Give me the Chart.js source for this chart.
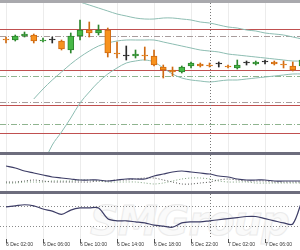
<!DOCTYPE html>
<html>
<head>
<meta charset="utf-8">
<script src="https://cdn.jsdelivr.net/npm/chart.js@4.4.0/dist/chart.umd.min.js"></script>
<style>
    html, body { margin: 0; padding: 0; background: #fff; }
    #wrap { position: relative; width: 300px; height: 250px; overflow: hidden; background: #fff; }
    .sep { position: absolute; left: 0; width: 300px; }
    .pane { position: absolute; left: 0; width: 300px; }
    #mark { position: absolute; left: 90px; top: 198px; font: italic bold 40px "DejaVu Sans", sans-serif;
            color: #fafafa; -webkit-text-stroke: 1px #ebebeb; letter-spacing: -1px; white-space: nowrap; }
</style>
</head>
<body>
<div id="wrap">
    <div id="mark">SMGroup</div>
    <div class="sep" style="top:0;height:3px;background:#a9a9ad"></div>
    <div class="pane" style="top:3px;height:149px"><canvas id="main" width="300" height="149"></canvas></div>
    <div class="sep" style="top:152px;height:3px;background:#6d6d7d"></div>
    <div class="pane" style="top:155px;height:36px"><canvas id="adx" width="300" height="36"></canvas></div>
    <div class="sep" style="top:191px;height:3px;background:#6d6d7d"></div>
    <div class="pane" style="top:194px;height:56px"><canvas id="rsi" width="300" height="56"></canvas></div>
</div>
<script>
// hourly candles, 6 Dec 02:00 .. 7 Dec 10:00
const opens  = [1.0863, 1.0862, 1.0866, 1.0867, 1.0861, 1.0862, 1.0861, 1.0852, 1.0866, 1.0872, 1.0869,
                1.0872, 1.0849, 1.0846, 1.0846, 1.0847, 1.0846, 1.0835, 1.0832, 1.0830, 1.0836, 1.0838,
                1.0837, 1.0838, 1.0836, 1.0834, 1.0839, 1.0838, 1.0840, 1.0840, 1.0838, 1.0836, 1.0836];
const highs  = [1.0865, 1.0867, 1.0870, 1.0868, 1.0864, 1.0865, 1.0862, 1.0869, 1.0882, 1.0880, 1.0877,
                1.0874, 1.0860, 1.0856, 1.0852, 1.0855, 1.0852, 1.0837, 1.0835, 1.0836, 1.0840, 1.0839,
                1.0839, 1.0840, 1.0837, 1.0842, 1.0841, 1.0841, 1.0842, 1.0841, 1.0841, 1.0840, 1.0844];
const lows   = [1.0859, 1.0861, 1.0865, 1.0859, 1.0860, 1.0859, 1.0852, 1.0849, 1.0862, 1.0865, 1.0867,
                1.0845, 1.0844, 1.0842, 1.0844, 1.0842, 1.0836, 1.0824, 1.0826, 1.0829, 1.0834, 1.0835,
                1.0835, 1.0835, 1.0834, 1.0833, 1.0837, 1.0837, 1.0838, 1.0837, 1.0834, 1.0831, 1.0835];
const closes = [1.0862, 1.0866, 1.0868, 1.0861, 1.0862, 1.0862, 1.0853, 1.0866, 1.0872, 1.0869, 1.0872,
                1.0849, 1.0848, 1.0846, 1.0848, 1.0846, 1.0837, 1.0832, 1.0830, 1.0835, 1.0839, 1.0836,
                1.0836, 1.0838, 1.0835, 1.0837, 1.0839, 1.0840, 1.0840, 1.0838, 1.0837, 1.0832, 1.0842];

// bollinger bands (start after the warm-up candles)
const bandUpper = [null, null, null, 1.0927, 1.0922, 1.0916, 1.0910, 1.0904, 1.0900, 1.0897, 1.0894,
                   1.0891, 1.0888, 1.0886, 1.0884, 1.0883, 1.0883, 1.0884, 1.0884, 1.0883, 1.0882, 1.0880,
                   1.0879, 1.0877, 1.0875, 1.0874, 1.0872, 1.0871, 1.0869, 1.0868, 1.0867, 1.0865, 1.0863];
const bandMid   = [null, null, null, 1.0803, 1.0813, 1.0822, 1.0830, 1.0838, 1.0845, 1.0851, 1.0856,
                   1.0859, 1.0861, 1.0862, 1.0862, 1.0862, 1.0862, 1.0860, 1.0858, 1.0856, 1.0854, 1.0852,
                   1.0851, 1.0850, 1.0848, 1.0847, 1.0846, 1.0845, 1.0844, 1.0843, 1.0842, 1.0841, 1.0841];
const bandLower = [null, null, null, 1.0717, 1.0737, 1.0757, 1.0770, 1.0784, 1.0799, 1.0810, 1.0820,
                   1.0828, 1.0834, 1.0839, 1.0841, 1.0842, 1.0840, 1.0834, 1.0828, 1.0824, 1.0822, 1.0821,
                   1.0820, 1.0821, 1.0822, 1.0822, 1.0823, 1.0824, 1.0825, 1.0826, 1.0827, 1.0828, 1.0828];

// support / resistance levels
const levels = [1.0873, 1.0866, 1.0832, 1.0826, 1.0800, 1.0797, 1.0778, 1.0769];
const levelKinds = ['red', 'dashGrey', 'red', 'dashGreen', 'dashGrey', 'red', 'dashGreen', 'red'];

// lower panes
const adxLine  = [25, 23, 20, 18, 16, 14, 13, 12, 11, 11, 11, 10, 11, 12, 12, 12, 15, 17, 19, 20, 19, 18,
                  17, 15, 14, 12, 11, 11, 11, 10, 10, 10, 10];
const diPlus   = [9, 9, 10, 11, 10, 9, 9, 9, 9, 9, 10, 10, 11, 11, 12, 13, 13, 11, 9, 7, 7, 8,
                  9, 11, 12, 11, 10, 10, 10, 9, 9, 9, 9];
const diMinus  = [8, 8, 9, 9, 9, 10, 10, 10, 11, 11, 10, 9, 9, 9, 9, 8, 7, 8, 10, 12, 13, 13,
                  12, 10, 9, 9, 9, 8, 8, 8, 8, 8, 8];
const rsiLine  = [67.9, 70.0, 72.1, 70.0, 63.7, 59.5, 53.2, 61.6, 65.8, 65.8, 65.8, 44.7, 40.5, 40.5, 38.4,
                  36.3, 32.1, 30.0, 27.9, 36.3, 38.4, 38.4, 40.5, 42.6, 44.7, 46.8, 48.9, 48.9, 44.7, 40.5,
                  36.3, 34.2, 80.5];
const rsiLevels = [70, 30];

const tickIdx    = [0, 4, 8, 12, 16, 20, 24, 28];
const tickLabels = ['6 Dec 02:00', '6 Dec 06:00', '6 Dec 10:00', '6 Dec 14:00',
                    '6 Dec 18:00', '6 Dec 22:00', '7 Dec 02:00', '7 Dec 06:00'];
const dayBreak = 22;   // 7 Dec 00:00

const X_MIN = -0.65, X_MAX = 31.78;
const UP = '#47b947', DOWN = '#f7921e', FLAT = '#2a2a2a';
const UP_EDGE = '#2d862d', DOWN_EDGE = '#cf6a12';
const BAND = '#8dbdb2';
const PANE_LINE = '#3d3d66';
const LEVEL_STYLE = {
    red:       { color: '#c05050', dash: [] },
    dashGrey:  { color: '#a89c9c', dash: [6, 2, 1, 2] },
    dashGreen: { color: '#8fb48f', dash: [6, 2, 1, 2] }
};

const idx = opens.map((_, i) => i);
const pts = arr => arr.map((v, i) => ({ x: i, y: v }));
const dirOf = i => closes[i] > opens[i] ? 1 : (closes[i] < opens[i] ? -1 : 0);
const bodyColor = i => dirOf(i) > 0 ? UP : (dirOf(i) < 0 ? DOWN : FLAT);
const edgeColor = i => dirOf(i) > 0 ? UP_EDGE : (dirOf(i) < 0 ? DOWN_EDGE : FLAT);

// draws the faint grid, level lines and the day separator through the chart's scales
const guides = {
    id: 'guides',
    beforeDatasetsDraw(chart, args, opts) {
        const { ctx, chartArea: a, scales: { x, y } } = chart;
        ctx.save();
        ctx.lineWidth = 1;
        ctx.strokeStyle = '#ececec';
        tickIdx.forEach(i => {
            const px = Math.round(x.getPixelForValue(i)) + 0.5;
            ctx.beginPath(); ctx.moveTo(px, a.top); ctx.lineTo(px, a.bottom); ctx.stroke();
        });
        (opts.levels || []).forEach((lv, k) => {
            const st = opts.styles ? LEVEL_STYLE[opts.styles[k]] : { color: '#8a8a8a', dash: [1, 2] };
            const py = Math.round(y.getPixelForValue(lv)) + 0.5;
            ctx.strokeStyle = st.color;
            ctx.setLineDash(st.dash);
            ctx.beginPath(); ctx.moveTo(a.left, py); ctx.lineTo(a.right, py); ctx.stroke();
        });
        ctx.restore();
    },
    afterDatasetsDraw(chart) {
        const { ctx, chartArea: a, scales: { x } } = chart;
        const px = Math.round(x.getPixelForValue(dayBreak)) + 0.5;
        ctx.save();
        ctx.strokeStyle = '#777';
        ctx.setLineDash([1, 2]);
        ctx.beginPath(); ctx.moveTo(px, a.top); ctx.lineTo(px, a.bottom); ctx.stroke();
        ctx.restore();
    }
};

const base = {
    responsive: false,
    animation: false,
    events: [],
    layout: { padding: 0 }
};

new Chart(document.getElementById('main'), {
    type: 'bar',
    data: {
        datasets: [
            {
                // bodies
                data: idx.map(i => ({ x: i, y: [opens[i], closes[i]] })),
                backgroundColor: idx.map(bodyColor),
                borderColor: idx.map(edgeColor),
                borderWidth: 1,
                borderSkipped: false,
                barThickness: 6,
                minBarLength: 1,
                grouped: false
            },
            {
                // wicks
                data: idx.map(i => ({ x: i, y: [lows[i], highs[i]] })),
                backgroundColor: idx.map(edgeColor),
                borderWidth: 0,
                barThickness: 1,
                grouped: false
            },
            { type: 'line', data: pts(bandUpper), borderColor: BAND, borderWidth: 1, pointRadius: 0, tension: 0.35 },
            { type: 'line', data: pts(bandMid),   borderColor: BAND, borderWidth: 1, pointRadius: 0, tension: 0.35 },
            { type: 'line', data: pts(bandLower), borderColor: BAND, borderWidth: 1, pointRadius: 0, tension: 0.35 }
        ]
    },
    options: {
        ...base,
        plugins: {
            legend: { display: false },
            tooltip: { enabled: false },
            guides: { levels: levels, styles: levelKinds }
        },
        scales: {
            x: { type: 'linear', display: false, min: X_MIN, max: X_MAX, offset: false },
            y: { display: false, min: 1.0750, max: 1.0899 }
        }
    },
    plugins: [guides]
});

new Chart(document.getElementById('adx'), {
    type: 'line',
    data: {
        datasets: [
            { data: pts(adxLine), borderColor: PANE_LINE, borderWidth: 1.2, pointRadius: 0, tension: 0.3 },
            { data: pts(diPlus), borderColor: '#555', borderWidth: 1, borderDash: [1, 2], pointRadius: 0, tension: 0.3 },
            { data: pts(diMinus), borderColor: '#7fa27f', borderWidth: 1, borderDash: [1, 2], pointRadius: 0, tension: 0.3 }
        ]
    },
    options: {
        ...base,
        plugins: { legend: { display: false }, tooltip: { enabled: false } },
        scales: {
            x: { type: 'linear', display: false, min: X_MIN, max: X_MAX },
            y: { display: false, min: 0, max: 36 }
        }
    },
    plugins: [guides]
});

new Chart(document.getElementById('rsi'), {
    type: 'line',
    data: {
        datasets: [
            { data: pts(rsiLine), borderColor: PANE_LINE, borderWidth: 1.2, pointRadius: 0, tension: 0.3 }
        ]
    },
    options: {
        ...base,
        layout: { padding: { left: 0, right: 0, top: 0, bottom: 3 } },
        plugins: {
            legend: { display: false },
            tooltip: { enabled: false },
            guides: { levels: rsiLevels }
        },
        scales: {
            x: {
                type: 'linear', min: X_MIN, max: X_MAX,
                afterBuildTicks: s => { s.ticks = tickIdx.map(v => ({ value: v })); },
                grid: { display: true, drawOnChartArea: false, drawTicks: true, tickLength: 4, color: '#555' },
                border: { display: false },
                ticks: {
                    callback: (v, i) => tickLabels[i],
                    align: 'start', autoSkip: false, maxRotation: 0, minRotation: 0,
                    padding: -1, color: '#333',
                    font: { family: 'Liberation Sans', size: 5 }
                }
            },
            y: { display: false, min: 4.7, max: 93.2 }
        }
    },
    plugins: [guides]
});
</script>
</body>
</html>
